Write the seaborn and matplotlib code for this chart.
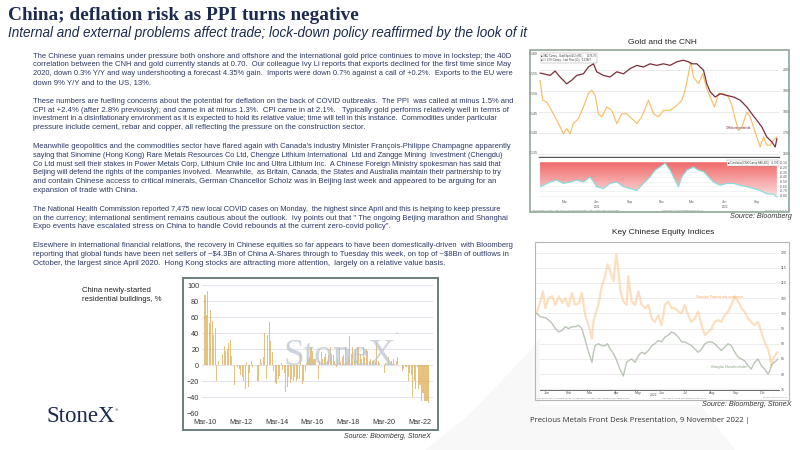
import numpy as np
import matplotlib
matplotlib.use("Agg")
import matplotlib.pyplot as plt
from matplotlib.patches import Rectangle, Polygon
from matplotlib.colors import LinearSegmentedColormap
import seaborn as sns

# ── slide text ──
title = "China; deflation risk as PPI turns negative"
subtitle = "Internal and external problems affect trade; lock-down policy reaffirmed by the look of it"
paragraphs = [
    ["The Chinese yuan remains under pressure both onshore and offshore and the international gold price continues to move in lockstep; the 40D",
     "correlation between the CNH and gold currently stands at 0.70.  Our colleague Ivy Li reports that exports declined for the first time since May",
     "2020, down 0.3% Y/Y and way undershooting a forecast 4.35% gain.  Imports were down 0.7% against a call of +0.2%.  Exports to the EU were",
     "down 9% Y/Y and to the US, 13%."],
    ["These numbers are fuelling concerns about the potential for deflation on the back of COVID outbreaks.  The PPI  was called at minus 1.5% and",
     "CPI at +2.4% (after 2.8% previously); and came in at minus 1.3%.  CPI came in at 2.1%.   Typically gold performs relatively well in terms of",
     "investment in a disinflationary environment as it is expected to hold its relative value; time will tell in this instance.  Commodities under particular",
     "pressure include cement, rebar and copper, all reflecting the pressure on the construction sector."],
    ["Meanwhile geopolitics and the commodities sector have flared again with Canada's industry Minister François-Philippe Champagne apparently",
     "saying that Sinomine (Hong Kong) Rare Metals Resources Co Ltd, Chengze Lithium International  Ltd and Zangge Mining  Investment (Chengdu)",
     "Co Ltd must sell their stakes in Power Metals Corp, Lithium Chile Inc and Ultra Lithium Inc.  A Chinese Foreign Ministry spokesman has said that",
     "Beijing will defend the rights of the companies involved.  Meanwhile,  as Britain, Canada, the States and Australia maintain their partnership to try",
     "and contain Chinese access to critical minerals, German Chancellor Scholz was in Beijing last week and appeared to be arguing for an",
     "expansion of trade with China."],
    ["The National Health Commission reported 7,475 new local COVID cases on Monday,  the highest since April and this is helping to keep pressure",
     "on the currency; international sentiment remains cautious about the outlook.  Ivy points out that \" The ongoing Beijing marathon and Shanghai",
     "Expo events have escalated stress on China to handle Covid rebounds at the current zero-covid policy\"."],
    ["Elsewhere in international financial relations, the recovery in Chinese equities so far appears to have been domestically-driven  with Bloomberg",
     "reporting that global funds have been net sellers of ~$4.3Bn of China A-Shares through to Tuesday this week, on top of ~$8Bn of outflows in",
     "October, the largest since April 2020.  Hong Kong stocks are attracting more attention,  largely on a relative value basis."],
]

# ── China newly-started residential buildings, % (monthly, Mar-10 .. Sep-22) ──
starts_yoy = [
    88, 62, 93, 52, 69, 55, 38, 46, -20, 5,                       # 2010 Mar-Dec
    0, 0, 14, 24, 18, 20, 28, 31, 11, 0, -25, 0,                  # 2011
    -3, -5, -12, -15, -20, -30, 4, -28, -10, 5, -3, 0,            # 2012
    0, -20, -20, 8, 2, 10, 40, -18, 38, 54, 30, 16,               # 2013
    -8, -22, -24, -18, -14, 3, -6, -10, -34, -27, -15, -23,       # 2014
    -18, -20, -15, -20, -18, -17, 15, -24, -20, -8, 2, 8,         # 2015
    10, 22, 18, 8, 8, 0, -18, 5, 16, 8, 10, 14,                   # 2016
    5, 12, 22, 14, 13, 5, -2, 8, 22, 4, 10, 12,                   # 2017
    22, 4, 10, 36, 14, 22, 8, 20, 22, 22, 14, 8,                  # 2018
    22, 10, 20, 18, 5, 8, 5, 6, 4, 27, 5, 2,                      # 2019
    0, 0, -10, 2, 1, 10, 3, 5, 8, 1, 5, 10,                       # 2020
    0, 0, -8, -5, -3, -2, -20, -10, -12, -40, -20, -30,           # 2021
    -2, -30, -25, -45, -35, -45, -45, -45, -47,                   # 2022 Jan-Sep
]
starts_month = list(range(len(starts_yoy)))      # months since Mar-10
starts_tick_pos = [0, 24, 48, 72, 96, 120, 144]
starts_tick_lbl = ["Mar-10", "Mar-12", "Mar-14", "Mar-16", "Mar-18", "Mar-20", "Mar-22"]

# ── Gold and the CNH (months since mid Dec-2020) ──
gold_t = [0.00, 0.25, 0.63, 1.26, 1.74, 2.21, 2.52, 2.84, 3.15, 3.63, 4.10, 4.57, 4.89, 5.21,
          5.52, 5.84, 6.31, 6.78, 7.26, 7.73, 8.20, 8.68, 9.15, 9.62, 10.25, 10.73, 11.20, 11.67,
          12.30, 12.93, 13.41, 13.72, 14.04, 14.26, 14.51, 14.98, 15.39, 15.71, 16.09, 16.50,
          16.88, 17.35, 17.82, 18.14, 18.45, 18.77, 19.09, 19.56, 19.87, 20.19, 20.50, 20.82,
          21.14, 21.45, 21.77, 22.08, 22.40]
gold_px = [1949, 1854, 1846, 1790, 1743, 1695, 1719, 1695, 1743, 1767, 1822, 1886, 1902, 1878,
           1790, 1775, 1822, 1806, 1743, 1790, 1790, 1767, 1743, 1775, 1854, 1790, 1775, 1806,
           1806, 1830, 1854, 1902, 1981, 2037, 1965, 1933, 1981, 1917, 1870, 1822,
           1886, 1886, 1870, 1830, 1767, 1711, 1727, 1798, 1775, 1727, 1679, 1632,
           1679, 1640, 1640, 1664, 1679]
cnh_t = [0.00, 0.95, 1.42, 1.89, 2.52, 3.00, 3.47, 4.10, 4.57, 5.05, 5.36, 5.99, 6.62, 7.26,
         7.89, 8.52, 9.15, 9.78, 10.41, 11.04, 11.67, 12.30, 12.93, 13.56, 14.04, 14.35, 14.83,
         15.46, 15.77, 16.09, 16.56, 17.03, 17.67, 18.30, 18.93, 19.56, 20.03, 20.50, 20.98,
         21.45, 21.92, 22.24, 22.40]
cnh_inv = [0.1550, 0.1544, 0.1555, 0.1540, 0.1523, 0.1532, 0.1544, 0.1548, 0.1565, 0.1573,
           0.1553, 0.1544, 0.1540, 0.1553, 0.1548, 0.1561, 0.1569, 0.1565, 0.1573, 0.1569,
           0.1573, 0.1569, 0.1578, 0.1582, 0.1578, 0.1573, 0.1573, 0.1557, 0.1523, 0.1503,
           0.1490, 0.1498, 0.1494, 0.1490, 0.1482, 0.1465, 0.1448, 0.1432, 0.1415, 0.1390,
           0.1378, 0.1365, 0.1386]
corr_t = [0.00, 0.32, 0.95, 1.58, 2.21, 2.84, 3.47, 4.10, 4.73, 5.36, 5.99, 6.62, 7.26, 7.89,
          8.52, 9.15, 9.78, 10.41, 10.88, 11.36, 11.83, 12.30, 12.78, 13.09, 13.41, 13.88, 14.51,
          14.98, 15.46, 15.93, 16.40, 17.03, 17.67, 18.30, 18.93, 19.56, 20.19, 20.82, 21.45,
          22.08, 22.40]
corr_40d = [-0.61, -0.58, -0.51, -0.47, -0.54, -0.51, -0.47, -0.51, -0.40, -0.61, -0.65, -0.54,
            -0.51, -0.61, -0.65, -0.69, -0.54, -0.40, -0.26, -0.19, -0.11, -0.26, -0.47, -0.61,
            -0.40, -0.26, -0.19, -0.26, -0.29, -0.40, -0.51, -0.58, -0.54, -0.54, -0.58, -0.61,
            -0.65, -0.69, -0.76, -0.77, -0.83]
gold_tick_t = [2.37, 5.36, 8.52, 11.5, 14.35, 17.5, 20.5]
gold_tick_lbl = ["Mar", "Jun", "Sep", "Dec", "Mar", "Jun", "Sep"]
gold_year_t = [5.36, 17.5]
gold_year_lbl = ["2021", "2022"]
gold_ticks = [1600, 1700, 1800, 1900, 2000]
cnh_ticks = [0.135, 0.140, 0.145, 0.150, 0.155, 0.160]
corr_ticks = [-0.1, -0.2, -0.3, -0.4, -0.5, -0.6, -0.7, -0.8]

# ── Key Chinese Equity Indices (months into 2022, rebased = 100) ──
eq_t = [0.06, 0.22, 0.33, 0.43, 0.57, 0.71, 0.85, 0.99, 1.13, 1.26, 1.40, 1.54, 1.68, 1.82,
        1.96, 2.10, 2.24, 2.38, 2.44, 2.51, 2.65, 2.79, 2.93, 3.03, 3.14, 3.28, 3.39, 3.49,
        3.56, 3.69, 3.83, 3.90, 4.04, 4.18, 4.32, 4.46, 4.60, 4.74, 4.88, 5.01, 5.15, 5.29,
        5.43, 5.57, 5.71, 5.85, 5.99, 6.13, 6.26, 6.40, 6.54, 6.68, 6.82, 6.96, 7.10, 7.24,
        7.38, 7.51, 7.65, 7.79, 7.93, 8.07, 8.21, 8.35, 8.49, 8.63, 8.76, 8.90, 9.04, 9.18,
        9.32, 9.46, 9.60, 9.74, 9.81, 9.88, 9.94, 10.08, 10.15]
property_idx = [100.0, 103.9, 107.2, 101.7, 105.0, 105.6, 102.8, 105.6, 103.3, 105.0, 102.2,
                106.7, 102.8, 103.3, 106.7, 99.4, 96.1, 91.7, 97.2, 99.4, 102.8, 108.9, 112.2,
                116.1, 113.9, 110.6, 119.4, 113.9, 107.8, 103.9, 102.8, 112.2, 103.9, 102.8,
                107.2, 102.8, 101.7, 102.8, 98.3, 97.2, 99.4, 96.1, 102.8, 103.9, 101.7, 101.7,
                100.6, 100.0, 102.8, 99.4, 97.2, 98.3, 100.6, 96.1, 92.8, 93.9, 95.0, 97.2,
                97.8, 97.2, 99.4, 100.6, 102.8, 105.6, 103.9, 101.7, 100.6, 98.3, 97.2, 96.1,
                97.2, 93.9, 90.6, 88.3, 86.1, 82.8, 85.0, 86.7, 87.2]
shsz_idx = [100.0, 98.9, 98.7, 98.6, 97.8, 96.7, 95.0, 93.9, 94.4, 95.6, 95.0, 95.6, 95.6, 96.1,
            95.0, 91.1, 87.2, 83.9, 87.0, 89.4, 90.0, 89.4, 89.4, 90.0, 88.3, 86.7, 85.0, 82.8,
            81.5, 79.4, 83.9, 84.4, 85.0, 83.9, 86.1, 87.2, 86.7, 87.8, 89.4, 90.0, 91.1, 90.6,
            92.2, 92.8, 93.9, 93.3, 92.2, 90.6, 90.6, 90.0, 89.4, 88.3, 87.2, 88.3, 90.0, 90.6,
            90.6, 90.0, 88.9, 87.8, 88.9, 90.0, 89.4, 87.2, 85.6, 85.0, 84.4, 82.8, 81.7, 83.9,
            85.0, 82.8, 81.7, 80.0, 81.0, 82.8, 83.5, 84.4, 85.0]
eq_tick_t = [0.5, 1.4, 2.3, 3.4, 4.3, 5.3, 6.3, 7.4, 8.4, 9.5]
eq_tick_lbl = ["Jan", "Feb", "Mar", "Apr", "May", "Jun", "Jul", "Aug", "Sep", "Oct"]
eq_ticks = [75, 80, 85, 90, 95, 100, 105, 110, 115, 120]

NAVY = "#1B2A4E"
W, H = 800, 450
BODY_SIZE = 5.55
BODY_MAX_W = 477      # px, text column 33 -> ~510


def box(fig, x0, y0, x1, y1):
    """axes from pixel box (origin top-left)"""
    return fig.add_axes([x0 / W, 1 - y1 / H, (x1 - x0) / W, (y1 - y0) / H])


def ftext(fig, x, y, s, **kw):
    return fig.text(x / W, 1 - y / H, s, **kw)


def frame(fig, x0, y0, x1, y1, color, lw=1.0):
    fig.patches.append(Rectangle((x0 / W, 1 - y1 / H), (x1 - x0) / W, (y1 - y0) / H,
                                 transform=fig.transFigure, fill=False,
                                 edgecolor=color, linewidth=lw, zorder=5))


def bare(a):
    a.set_xlabel("")
    a.set_ylabel("")
    for s in a.spines.values():
        s.set_visible(False)


sns.set_theme(style="white")
plt.rcParams["font.family"] = ["Liberation Sans", "DejaVu Sans"]

fig = plt.figure(figsize=(8, 4.5), dpi=100)
fig.patch.set_facecolor("white")

# faint watermark shape behind the slide
bg = [(425, 450), (470, 414), (527, 354), (540, 338), (540, 405), (700, 405), (735, 450)]
fig.patches.append(Polygon([(x / W, 1 - y / H) for x, y in bg], closed=True,
                           transform=fig.transFigure, facecolor="#F8F8F9",
                           edgecolor="none", zorder=0))

# ── title + body ──
ftext(fig, 8, 15, title, family="Liberation Serif", fontweight="bold",
      fontsize=13.9, color=NAVY, va="center")
ftext(fig, 8, 33, subtitle, style="italic", fontsize=9.75, color=NAVY, va="center")

renderer = fig.canvas.get_renderer()
y = 56
for para in paragraphs:
    for line in para:
        t = ftext(fig, 33, y, line.replace("$", r"\$"), fontsize=BODY_SIZE,
                  color="#2B3766", va="center")
        w = t.get_window_extent(renderer).width
        if w > BODY_MAX_W:
            t.set_fontsize(BODY_SIZE * BODY_MAX_W / w)
        y += 8.8
    y += 10

# ── residential starts bar chart ──
ftext(fig, 82, 295, "China newly-started\nresidential buildings, %", fontsize=5.6,
      color="#222222", va="center", linespacing=1.3)
ftext(fig, 46, 417, "StoneX", family="Liberation Serif", fontsize=16.5, color=NAVY, va="center")
ftext(fig, 115, 410, "®", fontsize=3.2, color=NAVY, va="center")

frame(fig, 183, 278, 438, 430, "#5E7474", lw=1.3)
ax = box(fig, 202, 285, 433, 413)
sns.barplot(x=starts_month, y=starts_yoy, native_scale=True, color="#F5B02E",
            width=0.7, errorbar=None, linewidth=0, alpha=0.7, ax=ax)
ax.set_xlim(-2, 152.7)
ax.set_ylim(-60, 100)
ax.set_yticks(range(-60, 101, 20))
ax.set_xticks(starts_tick_pos)
ax.set_xticklabels(starts_tick_lbl)
ax.grid(axis="y", color="#E3E3F2", linewidth=0.8)
ax.set_axisbelow(True)
ax.tick_params(axis="y", labelsize=5.2, colors="#333333", length=0, pad=2)
ax.tick_params(axis="x", labelsize=5.2, colors="#333333", length=0, pad=4)
bare(ax)
ax.text(0.595, 0.45, "StoneX", transform=ax.transAxes, family="Liberation Serif",
        fontsize=27, color="#B9C3CF", alpha=0.7, ha="center", va="center", zorder=3)
ax.text(0.835, 0.61, "™", transform=ax.transAxes, fontsize=3, color="#B9C3CF", zorder=3)
ftext(fig, 431, 437, "Source: Bloomberg, StoneX", style="italic", fontsize=5,
      color="#333333", ha="right", va="center")

# ── Gold and the CNH ──
ftext(fig, 662, 43, "Gold and the CNH", fontsize=6, color="#222222", ha="center", va="center")
frame(fig, 530, 50, 789, 212, "#8EA597", lw=1.2)
ax_g = box(fig, 539, 52, 779, 157)
ax_c = ax_g.twinx()
sns.lineplot(x=gold_t, y=gold_px, color="#F8B552", linewidth=0.9, alpha=0.85, ax=ax_g)
ax_g.set_ylim(1584, 2084)
ax_g.set_xlim(-0.1, 22.6)
ax_g.set_yticks(gold_ticks)
ax_g.yaxis.tick_right()
ax_g.set_xticks([])
ax_g.grid(axis="y", color="#E2E2E2", linewidth=0.5)
ax_g.tick_params(labelsize=2.6, colors="#555555", length=0, pad=3)
sns.lineplot(x=cnh_t, y=cnh_inv, color="#7A2E3C", linewidth=0.9, ax=ax_c)
ax_c.set_ylim(0.1340, 0.16025)
ax_c.set_yticks(cnh_ticks)
ax_c.set_yticklabels([f"{v:.3f}" for v in cnh_ticks])
ax_c.yaxis.tick_left()
ax_c.tick_params(labelsize=2.6, colors="#555555", length=0, pad=1)
ax_c.set_xlim(-0.1, 22.6)
ax_c.set_xticks([])
bare(ax_g)
bare(ax_c)
ax_g.spines["bottom"].set_visible(True)
ax_g.spines["bottom"].set_color("#555555")
ax_g.spines["bottom"].set_linewidth(1.0)
ax_c.text(0.01, 0.985, "■ XAU Curncy - Gold Spot $/Oz (R1)      1676.70\n■ 1 / CNH Curncy - Last Price (L1)   0.13827",
          transform=ax_c.transAxes, fontsize=1.8, color="#333333", va="top",
          bbox=dict(boxstyle="square,pad=0.3", fc="white", ec="#999999", lw=0.3))
ax_c.text(0.78, 0.27, "Offshore renminbi", transform=ax_c.transAxes, fontsize=2.2,
          color="#7A2E3C")

ax_r = box(fig, 539, 158, 779, 199)
poly = ax_r.fill_between(corr_t, corr_40d, -0.09, color="none")
grad = np.linspace(0, 1, 64).reshape(-1, 1)
cmap = LinearSegmentedColormap.from_list("red", ["#FCE6E6", "#F7A6A6", "#F06A6A"])
im = ax_r.imshow(grad, extent=[-0.1, 22.6, -0.87, -0.09], origin="lower",
                 aspect="auto", cmap=cmap, zorder=1)
im.set_clip_path(poly.get_paths()[0], transform=ax_r.transData)
sns.lineplot(x=corr_t, y=corr_40d, color="#7EE0E0", linewidth=0.8, ax=ax_r, zorder=2)
ax_r.set_xlim(-0.1, 22.6)
ax_r.set_ylim(-0.87, 0.0)
ax_r.set_yticks(corr_ticks)
ax_r.set_yticklabels([f"{v:.2f}" for v in corr_ticks])
ax_r.yaxis.tick_right()
ax_r.set_xticks(gold_tick_t)
ax_r.set_xticklabels(gold_tick_lbl)
ax_r.grid(axis="y", color="#EBEBEB", linewidth=0.4)
ax_r.tick_params(labelsize=2.4, colors="#555555", length=0, pad=0.8)
bare(ax_r)
for t, lbl in zip(gold_year_t, gold_year_lbl):
    ax_r.text(t, -1.05, lbl, fontsize=2.2, color="#555555", ha="center", va="center")
ax_r.text(0.995, 0.93, "■ Correlation(CNH Curncy,XAU,40D)  -0.703", transform=ax_r.transAxes,
          fontsize=1.8, color="#333333", ha="right", va="top",
          bbox=dict(boxstyle="square,pad=0.3", fc="white", ec="#999999", lw=0.3))
ftext(fig, 532, 210.2, "Gold Currency Chart   CNH Curncy Gold and Renminbi - Daily 11NOV2021-09NOV2022",
      fontsize=1.6, color="#777777", va="center")
ftext(fig, 662, 210.2, "Copyright© 2022 Bloomberg Finance L.P.", fontsize=1.6, color="#777777", va="center")
ftext(fig, 787, 210.2, "09-Nov-2022 10:02:11", fontsize=1.6, color="#777777", ha="right", va="center")
ftext(fig, 792, 217, "Source: Bloomberg", style="italic", fontsize=5.2, color="#333333",
      ha="right", va="center")

# ── Key Chinese Equity Indices ──
ftext(fig, 663, 233, "Key Chinese Equity Indices", fontsize=6, color="#222222",
      ha="center", va="center")
frame(fig, 535, 242, 789, 400, "#B5B5B5", lw=0.8)
ax_e = box(fig, 536, 244, 779, 390)
sns.lineplot(x=eq_t, y=property_idx, color="#FBC58C", linewidth=1.6, alpha=0.55, ax=ax_e)
sns.lineplot(x=eq_t, y=shsz_idx, color="#A9B8A4", linewidth=1.0, alpha=0.8, ax=ax_e)
ax_e.set_xlim(0.04, 10.2)
ax_e.set_ylim(74.8, 122.8)
ax_e.set_yticks(eq_ticks)
ax_e.yaxis.tick_right()
ax_e.set_xticks(eq_tick_t)
ax_e.set_xticklabels(eq_tick_lbl)
ax_e.grid(axis="y", color="#E6E6E6", linewidth=0.5)
ax_e.tick_params(labelsize=2.6, colors="#555555", length=0, pad=1)
bare(ax_e)
ax_e.spines["bottom"].set_visible(True)
ax_e.spines["bottom"].set_color("#555555")
ax_e.spines["bottom"].set_linewidth(0.6)
ax_e.text(6.75, 105.0, "Shanghai Property sub-component", fontsize=2.2, color="#F5A964")
ax_e.text(7.35, 82.0, "Shanghai Shenzhen Index", fontsize=2.2, color="#7D9A76")
ax_e.text(4.95, 73.3, "2022", fontsize=2.4, color="#555555", ha="center", va="center")
ftext(fig, 537, 398, "CSI 300 Index  SHCOMP Index  Shanghai Composite  Daily 31DEC2021-09NOV2022",
      fontsize=1.7, color="#777777", va="center")
ftext(fig, 662, 398, "Copyright© 2022 Bloomberg Finance L.P.", fontsize=1.7, color="#777777", va="center")
ftext(fig, 787, 398, "09-Nov-2022 10:05:47", fontsize=1.7, color="#777777", ha="right", va="center")
ftext(fig, 792, 405, "Source: Bloomberg, StoneX", style="italic", fontsize=5.2,
      color="#333333", ha="right", va="center")

ftext(fig, 530, 421, "Precious Metals Front Desk Presentation, 9 November 2022 |",
      family="Open Sans", fontsize=5.6, color="#333333", va="center")

fig.savefig("out.png", dpi=100, facecolor="white")
